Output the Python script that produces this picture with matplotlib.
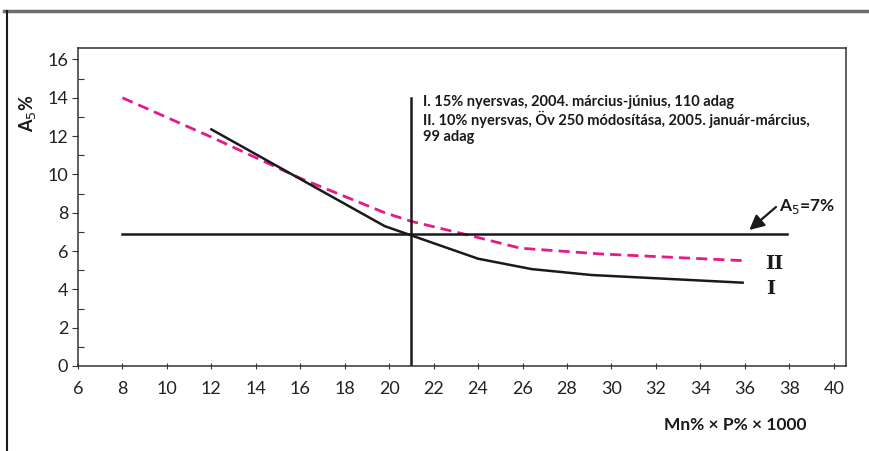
import matplotlib
matplotlib.use('Agg')
import matplotlib.pyplot as plt
from matplotlib.lines import Line2D
from matplotlib.ticker import MultipleLocator

# data
x_I = [12.0, 19.8, 24.0, 26.4, 29.1, 35.9]
y_I = [12.35, 7.3, 5.6, 5.06, 4.75, 4.35]
x_II = [8.0, 12.0, 16.0, 19.8, 21.0, 23.5, 25.9, 29.5, 35.9]
y_II = [14.0, 11.95, 9.8, 8.0, 7.55, 6.85, 6.15, 5.85, 5.5]
limit_x = [8.0, 37.9]
limit_y = 6.9
mark_x = 21.0
mark_top = 14.0
xticks = list(range(6, 41, 2))
yticks = list(range(0, 17, 2))

legend_lines = ['I. 15% nyersvas, 2004. március-június, 110 adag',
				'II. 10% nyersvas, Öv 250 módosítása, 2005. január-március,',
				'99 adag']

txt = ['Lato', 'DejaVu Sans']

fig = plt.figure(figsize=(8.69, 4.51), dpi=100)
ax = fig.add_axes([78 / 869, 1 - 366 / 451, (846 - 78) / 869, (366 - 48) / 451])

ax.plot(x_II, y_II, color='#e6198a', lw=2.0, dashes=(4, 2.2), solid_capstyle='butt')
ax.plot(x_I, y_I, color='#1a1a1a', lw=1.8)
ax.plot(limit_x, [limit_y, limit_y], color='#1a1a1a', lw=1.8)
ax.plot([mark_x, mark_x], [0, mark_top], color='#1a1a1a', lw=1.8)

ax.set_xlim(6, 40.55)
ax.set_ylim(0, 16.6)
ax.set_xticks(xticks)
ax.set_yticks(yticks)
ax.yaxis.set_minor_locator(MultipleLocator(1))
ax.tick_params(axis='x', direction='inout', length=5, width=0.8, color='#333333', pad=8)
ax.tick_params(axis='y', which='major', direction='out', length=4, width=0.8, color='#333333', pad=3)
ax.tick_params(axis='y', which='minor', direction='in', length=4, width=0.8, color='#333333')
for lab in ax.get_xticklabels() + ax.get_yticklabels():
	lab.set_fontfamily(txt)
	lab.set_fontsize(13)
	lab.set_color('#222222')
for sp in ax.spines.values():
	sp.set_linewidth(1.1)
	sp.set_color('#333333')

ax.text(21.5, 14.15, '\n'.join(legend_lines), family=txt, fontweight='bold',
		fontsize=10.5, va='top', ha='left', linespacing=1.15, color='#1a1a1a')

# A5 = 7% label with its arrow
ax.annotate('', xy=(36.2, 7.1), xytext=(37.4, 8.3),
			arrowprops=dict(arrowstyle='-|>', color='#1a1a1a', lw=1.6, mutation_scale=22,
							shrinkA=0, shrinkB=0))
ax.text(37.55, 8.35, r'A$_5$=7%', family=txt, fontweight='bold', fontsize=12.5,
		va='center', ha='left', color='#1a1a1a')
ax.text(36.9, 5.3, 'II', family='DejaVu Serif', fontweight='bold', fontsize=14,
		va='center', ha='left', color='#1a1a1a')
ax.text(36.95, 4.0, 'I', family='DejaVu Serif', fontweight='bold', fontsize=14,
		va='center', ha='left', color='#1a1a1a')

fig.text(28 / 869, 1 - 113 / 451, r'A$_5$%', family=txt, fontweight='bold', fontsize=13,
		 rotation=90, ha='center', va='center', color='#1a1a1a')
fig.text(735 / 869, 1 - 425 / 451, 'Mn% × P% × 1000', family=txt, fontweight='bold',
		 fontsize=12.5, ha='center', va='center', color='#1a1a1a')

# outer frame: grey top rule and black left rule
fig.add_artist(Line2D([4 / 869, 1], [1 - 11 / 451, 1 - 11 / 451], color='#6e6e6e', lw=2.5,
					  transform=fig.transFigure))
fig.add_artist(Line2D([7 / 869, 7 / 869], [0, 1 - 11 / 451], color='#1a1a1a', lw=1.5,
					  transform=fig.transFigure))

fig.savefig('out.png', dpi=100)
